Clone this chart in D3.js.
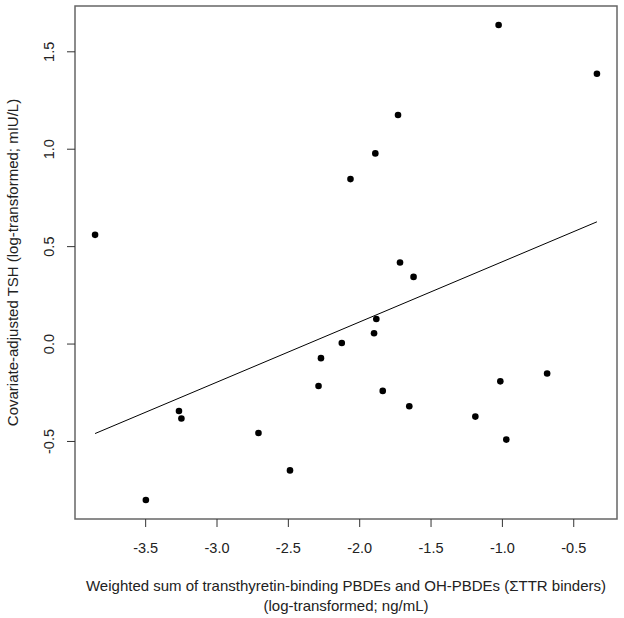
<!DOCTYPE html>
<meta charset="utf-8" />
<style>
  body { margin: 0; background: #fff; }
  text { font-family: "Liberation Sans", Arial, sans-serif; fill: #222; }
</style>
<body>
<div id="plot"></div>
<script src="https://d3js.org/d3.v7.min.js"></script>
<script>
  // data
  var ttrBinders = [-3.851, -3.495, -3.263, -3.246, -2.706, -2.485, -2.285, -2.268,
    -2.122, -1.896, -1.880, -1.714, -1.619, -1.835, -1.649, -1.186, -1.011, -0.969,
    -0.683, -1.023, -0.334, -1.728, -1.887, -2.061];
  var tshAdj = [0.558, -0.803, -0.346, -0.385, -0.459, -0.651, -0.218, -0.075,
    0.003, 0.053, 0.126, 0.416, 0.342, -0.243, -0.322, -0.375, -0.194, -0.493,
    -0.154, 1.635, 1.385, 1.173, 0.976, 0.844];
  var fitIntercept = 0.728, fitSlope = 0.309;
  var xTicks = [-3.5, -3.0, -2.5, -2.0, -1.5, -1.0, -0.5];
  var yTicks = [-0.5, 0.0, 0.5, 1.0, 1.5];

  var W = 624, H = 618;
  var margin = { top: 6, right: 7, bottom: 99, left: 75 };

  var svg = d3.select("#plot").append("svg")
    .attr("width", W).attr("height", H);

  // R style: extend range by 4% on each side
  function pad(ext) {
    var d = (ext[1] - ext[0]) * 0.04;
    return [ext[0] - d, ext[1] + d];
  }
  var x = d3.scaleLinear().domain(pad(d3.extent(ttrBinders)))
    .range([margin.left, W - margin.right]);
  var y = d3.scaleLinear().domain(pad(d3.extent(tshAdj)))
    .range([H - margin.bottom, margin.top]);

  var bottom = H - margin.bottom;
  // plain hyphen for negatives, like R
  var fmt = function (d) { return d.toFixed(1); };

  // box
  svg.append("rect")
    .attr("x", margin.left).attr("y", margin.top)
    .attr("width", W - margin.right - margin.left)
    .attr("height", bottom - margin.top)
    .attr("fill", "none").attr("stroke", "#666").attr("stroke-width", 1.5);

  // x axis
  var xa = svg.append("g").attr("transform", "translate(0," + bottom + ")")
    .call(d3.axisBottom(x).tickValues(xTicks).tickSize(8).tickPadding(16)
      .tickFormat(fmt));
  xa.select(".domain").remove();
  xa.selectAll("line").attr("stroke", "#333");
  xa.selectAll("text").style("font-size", "14.5px").attr("fill", "#222");

  // y axis
  var ya = svg.append("g").attr("transform", "translate(" + margin.left + ",0)")
    .call(d3.axisLeft(y).tickValues(yTicks).tickSize(8).tickFormat(fmt));
  ya.select(".domain").remove();
  ya.selectAll("line").attr("stroke", "#333");
  ya.selectAll("text")
    .style("font-size", "14.5px").attr("fill", "#222")
    .attr("x", 0).attr("dy", null)
    .attr("text-anchor", "middle")
    .attr("transform", "translate(-26,0) rotate(-90)")
    .attr("y", 5);

  // fitted line
  var xr = d3.extent(ttrBinders);
  svg.append("line")
    .attr("x1", x(xr[0])).attr("y1", y(fitIntercept + fitSlope * xr[0]))
    .attr("x2", x(xr[1])).attr("y2", y(fitIntercept + fitSlope * xr[1]))
    .attr("stroke", "#000").attr("stroke-width", 1);

  // points
  svg.selectAll("circle.pt").data(ttrBinders).enter().append("circle")
    .attr("class", "pt")
    .attr("cx", function (d) { return x(d); })
    .attr("cy", function (d, i) { return y(tshAdj[i]); })
    .attr("r", 3.3).attr("fill", "#000");

  // axis titles
  var cx = (margin.left + W - margin.right) / 2;
  svg.append("text").attr("x", cx).attr("y", 591)
    .attr("text-anchor", "middle").style("font-size", "15px")
    .text("Weighted sum of transthyretin-binding PBDEs and OH-PBDEs (\u03A3TTR binders)");
  svg.append("text").attr("x", cx).attr("y", 611)
    .attr("text-anchor", "middle").style("font-size", "15px")
    .text("(log-transformed; ng/mL)");

  svg.append("text")
    .attr("transform", "translate(18," + (margin.top + bottom) / 2 + ") rotate(-90)")
    .attr("text-anchor", "middle").style("font-size", "15px")
    .text("Covariate-adjusted TSH (log-transformed; mIU/L)");
</script>
</body>
